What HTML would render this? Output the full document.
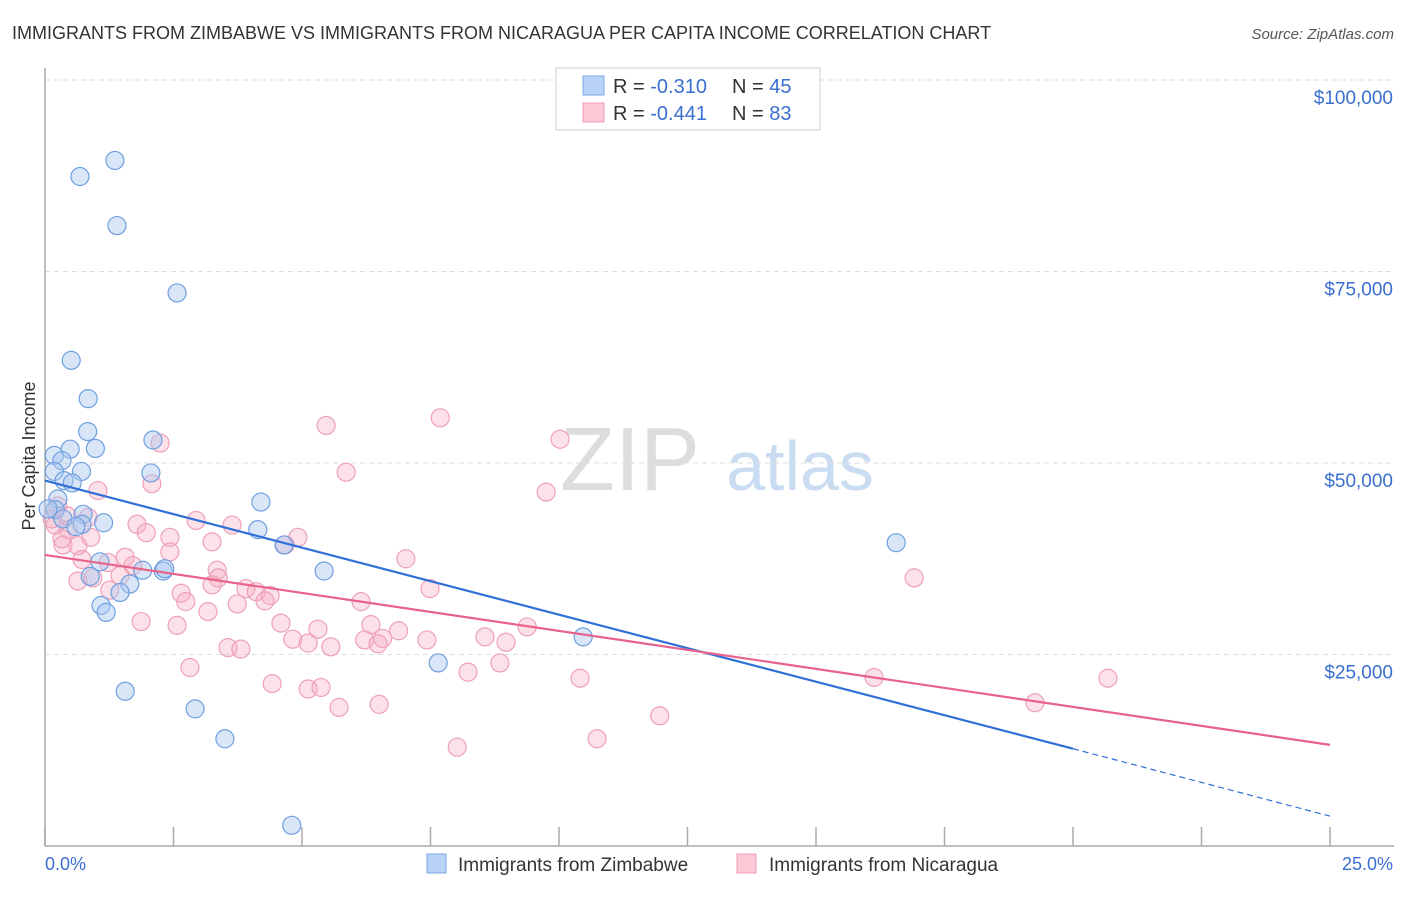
<!DOCTYPE html>
<html><head><meta charset="utf-8"><style>
body{margin:0;background:#fff;font-family:"Liberation Sans",sans-serif;}
svg text{font-family:"Liberation Sans",sans-serif;}
</style></head><body>
<svg id="chart" width="1406" height="892">
<text x="12" y="39" font-size="18" fill="#333">IMMIGRANTS FROM ZIMBABWE VS IMMIGRANTS FROM NICARAGUA PER CAPITA INCOME CORRELATION CHART</text>
<text x="1394" y="39" font-size="15" fill="#555" font-style="italic" text-anchor="end">Source: ZipAtlas.com</text>
<g><text x="630" y="490" font-size="90" fill="#ddd" font-family="Liberation Serif" text-anchor="middle">ZIP</text><text x="800" y="490" font-size="70" fill="#c9dcf2" text-anchor="middle">atlas</text></g>
<g id="grid"></g><g id="axes"></g><g id="pts"></g><g id="trend"></g>
<text transform="translate(35,456) rotate(-90)" font-size="18" fill="#333" text-anchor="middle">Per Capita Income</text>
<g>
<rect x="556" y="68" width="264" height="62" fill="#fff" stroke="#ccc"/>
<rect x="583" y="76" width="21" height="19" fill="#b8d3f5" stroke="#7fa9e6"/>
<rect x="583" y="103" width="21" height="19" fill="#fbc8d6" stroke="#f09ab4"/>
<text x="613" y="93" font-size="20" fill="#333">R = <tspan fill="#3a6fd0">-0.310</tspan></text>
<text x="732" y="93" font-size="20" fill="#333">N = <tspan fill="#3a6fd0">45</tspan></text>
<text x="613" y="120" font-size="20" fill="#333">R = <tspan fill="#3a6fd0">-0.441</tspan></text>
<text x="732" y="120" font-size="20" fill="#333">N = <tspan fill="#3a6fd0">83</tspan></text>
</g>
<g>
<rect x="427" y="854" width="19" height="19" fill="#b8d3f5" stroke="#7fa9e6"/>
<text x="458" y="871" font-size="19" fill="#333">Immigrants from Zimbabwe</text>
<rect x="737" y="854" width="19" height="19" fill="#fbc8d6" stroke="#f09ab4"/>
<text x="769" y="871" font-size="19" fill="#333">Immigrants from Nicaragua</text>
</g>
<text x="45" y="870" font-size="18" fill="#3a6fd0">0.0%</text>
<text x="1393" y="870" font-size="18" fill="#3a6fd0" text-anchor="end">25.0%</text>
</svg>
<script>
const yTicks=[25000,50000,75000,100000];
const yTickLabels=["$25,000","$50,000","$75,000","$100,000"];
const xTicks=[0,2.5,5,7.5,10,12.5,15,17.5,20,22.5,25];
const zimX=[1.36,0.68,1.40,2.57,0.51,0.84,0.83,2.1,0.49,0.98,0.18,0.33,2.06,0.71,0.18,0.37,0.53,0.25,4.2,0.2,0.35,0.74,0.72,0.6,1.14,4.14,4.65,1.07,1.9,2.3,2.33,5.43,0.88,1.65,1.46,1.09,1.19,10.47,7.65,1.56,2.92,3.5,4.8,16.56,0.06];
const zimY=[89500,87400,81000,72200,63400,58400,54100,53000,51800,51900,51000,50300,48700,48900,48900,47700,47400,45300,44900,43900,42700,43300,42000,41700,42200,41300,39300,37100,36000,35900,36200,35900,35200,34200,33100,31400,30500,27300,23900,20200,17900,14000,2700,39600,44000];
const nicX=[7.69,5.47,10.02,2.24,5.86,2.08,9.75,1.03,0.25,0.43,0.45,0.89,0.35,0.64,1.79,2.94,3.64,1.97,2.43,3.25,4.92,4.67,2.43,1.56,1.71,0.72,1.23,1.46,7.02,3.35,3.37,3.25,1.26,0.64,0.93,3.91,4.11,4.38,4.28,2.65,2.74,6.15,3.74,3.17,7.49,1.87,2.57,4.59,5.31,6.34,6.88,6.57,6.22,4.82,5.12,5.56,6.48,7.43,8.56,8.97,9.38,8.85,3.56,3.81,2.82,4.42,5.12,5.37,5.72,6.5,8.23,10.41,16.91,16.13,20.68,19.26,11.96,10.74,8.02,0.2,0.14,0.33,0.84];
const nicY=[55900,54900,53100,52600,48800,47300,46200,46400,44400,43100,41300,40300,39300,39200,42000,42500,41900,40900,40300,39700,40300,39300,38400,37700,36600,37400,37000,35300,37500,36000,35000,34100,33400,34600,35000,33600,33200,32700,32000,33000,31900,31900,31600,30600,33600,29300,28800,29100,28300,28900,28100,27100,26900,27000,26500,26000,26400,26900,27300,26600,28600,23900,25900,25700,23300,21200,20500,20700,18100,18500,22700,21900,35000,22000,21900,18700,17000,14000,12900,41900,42700,40100,42900];
const zimTrend=[0,47700,20,12700,25,3900];
const nicTrend=[0,38000,25,13200];
const NS='http://www.w3.org/2000/svg';
const X=v=>45+v/25*1285, Y=v=>846-v/25000*191.5;
function mk(t,a,p){const e=document.createElementNS(NS,t);for(const k in a)e.setAttribute(k,a[k]);p.appendChild(e);return e;}
const grid=document.getElementById('grid'),axes=document.getElementById('axes'),pts=document.getElementById('pts'),tr=document.getElementById('trend');
yTicks.forEach((v,i)=>{
 const l=mk('line',{x1:45,x2:1394,y1:Y(v),y2:Y(v),stroke:'#ddd','stroke-dasharray':'5,4'},grid);
 
 
 const t=mk('text',{x:1393,y:Y(v)+24,'font-size':19,fill:'#3a6fd0','text-anchor':'end'},axes);
 t.textContent=yTickLabels[i];
 
 
});
const ya=mk('line',{x1:45,x2:45,y1:68,y2:846,stroke:'#aaa','stroke-width':1.5},axes);


const xa=mk('line',{x1:45,x2:1394,y1:846,y2:846,stroke:'#aaa','stroke-width':1.5},axes);


xTicks.forEach(v=>{
 const t=mk('line',{x1:X(v),x2:X(v),y1:827,y2:846,stroke:'#aaa','stroke-width':1.5},axes);
 
 
});
nicX.forEach((v,i)=>{
 const c=mk('circle',{cx:X(v),cy:Y(nicY[i]),r:9,fill:'rgba(246,168,192,0.35)',stroke:'#eea0b8','stroke-width':1.2},pts);
 
 
});
zimX.forEach((v,i)=>{
 const c=mk('circle',{cx:X(v),cy:Y(zimY[i]),r:9,fill:'rgba(168,200,240,0.45)',stroke:'#6f9fe0','stroke-width':1.2},pts);
 
 
});
const zt=mk('line',{x1:X(zimTrend[0]),y1:Y(zimTrend[1]),x2:X(zimTrend[2]),y2:Y(zimTrend[3]),stroke:'#2f6fd6','stroke-width':2.2},tr);


const zd=mk('line',{x1:X(zimTrend[2]),y1:Y(zimTrend[3]),x2:X(zimTrend[4]),y2:Y(zimTrend[5]),stroke:'#2f6fd6','stroke-width':1.2,'stroke-dasharray':'6,4'},tr);


const nt=mk('line',{x1:X(nicTrend[0]),y1:Y(nicTrend[1]),x2:X(nicTrend[2]),y2:Y(nicTrend[3]),stroke:'#e8638c','stroke-width':2.2},tr);


</script>
</body></html>
